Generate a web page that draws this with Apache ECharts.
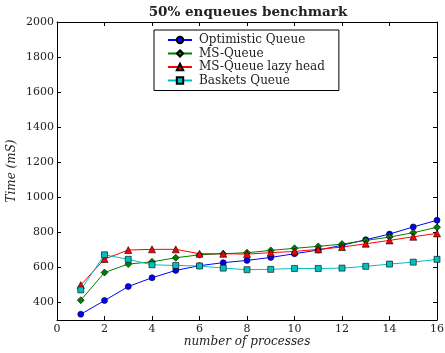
<!DOCTYPE html>
<html><head><meta charset="utf-8">
<script src="https://cdn.jsdelivr.net/npm/echarts@6/dist/echarts.min.js"></script>
<style>html,body{margin:0;padding:0;background:#fff}#c{width:445px;height:353px}</style>
</head><body><div id="c"></div>
<script>
const processes = [1,2,3,4,5,6,7,8,9,10,11,12,13,14,15,16];
const optimistic = [333,411,491,541,583,610,627,640,657,678,699,726,758,790,831,869];
const msQueue = [413,571,619,632,655,672,678,684,697,709,720,733,754,773,798,829];
const msLazy = [499,648,699,703,703,678,678,676,684,691,703,716,735,754,775,794];
const baskets = [472,672,646,615,611,608,596,587,589,594,594,596,606,619,630,646];
const yTicks = [400,600,800,1000,1200,1400,1600,1800,2000];
const seriesNames = ['Optimistic Queue','MS-Queue','MS-Queue lazy head','Baskets Queue'];

const pairs = arr => processes.map((x,i)=>[x,arr[i]]);
const chart = echarts.init(document.getElementById('c'), null, {renderer:'canvas'});
const mk = (name, data, color, symbol, size) => ({
  name, type:'line', data: pairs(data), symbol, symbolSize:size,
  lineStyle:{color, width:1}, itemStyle:{color, borderColor:'#000', borderWidth:0.6},
  emphasis:{disabled:true}, animation:false, z: 3
});
const tickFont = {fontFamily:'DejaVu Serif', fontSize:11, color:'#222', formatter: v => String(v)};
chart.setOption({
  animation:false,
  title:{text:'50% enqueues benchmark', left:243, textAlign:'center', top:0,
    textStyle:{fontFamily:'DejaVu Serif', fontWeight:'bold', fontSize:13.5, color:'#222'}},
  legend:{orient:'vertical', left:154, top:30, padding:[4,14,4,13],
    borderColor:'#000', borderWidth:1, itemGap:1.5, itemWidth:24, itemHeight:8,
    data:seriesNames,
    textStyle:{fontFamily:'DejaVu Serif', fontSize:12, color:'#222', lineHeight:12, padding:[0,0,0,2]}},
  grid:{left:57, right:8, top:22, bottom:33, containLabel:false, outerBoundsMode:'none'},
  xAxis:[{type:'value', min:0, max:16, interval:2,
      name:'number of processes', nameLocation:'middle', nameGap:16, nameMoveOverlap:false,
      nameTextStyle:{fontFamily:'DejaVu Serif', fontStyle:'italic', fontSize:12, color:'#222'},
      axisLine:{show:true, onZero:false, lineStyle:{color:'#000'}},
      axisTick:{show:true, inside:true, length:4, lineStyle:{color:'#000'}},
      axisLabel:Object.assign({margin:4}, tickFont), splitLine:{show:false}},
    {type:'value', position:'top', min:0, max:16, interval:2,
      axisLine:{show:true, onZero:false, lineStyle:{color:'#000'}},
      axisTick:{show:true, inside:true, length:4, lineStyle:{color:'#000'}},
      axisLabel:{show:false}, splitLine:{show:false}}],
  yAxis:[{type:'value', min:300, max:2000,
      name:'Time (mS)', nameLocation:'middle', nameGap:39, nameRotate:90, nameMoveOverlap:false,
      nameTextStyle:{fontFamily:'DejaVu Serif', fontStyle:'italic', fontSize:12, color:'#222'},
      axisLine:{show:true, onZero:false, lineStyle:{color:'#000'}},
      axisTick:{show:true, inside:true, length:4, customValues:yTicks, lineStyle:{color:'#000'}},
      axisLabel:Object.assign({margin:3, customValues:yTicks}, tickFont), splitLine:{show:false}},
    {type:'value', position:'right', min:300, max:2000,
      axisLine:{show:true, onZero:false, lineStyle:{color:'#000'}},
      axisTick:{show:true, inside:true, length:4, customValues:yTicks, lineStyle:{color:'#000'}},
      axisLabel:{show:false}, splitLine:{show:false}}],
  series:[
    mk(seriesNames[0], optimistic, '#0000ff', 'circle', 6),
    mk(seriesNames[1], msQueue, '#008000', 'diamond', 7),
    mk(seriesNames[2], msLazy, '#ff0000', 'triangle', 7),
    mk(seriesNames[3], baskets, '#00bfbf', 'rect', 6)
  ]
});
</script></body></html>
